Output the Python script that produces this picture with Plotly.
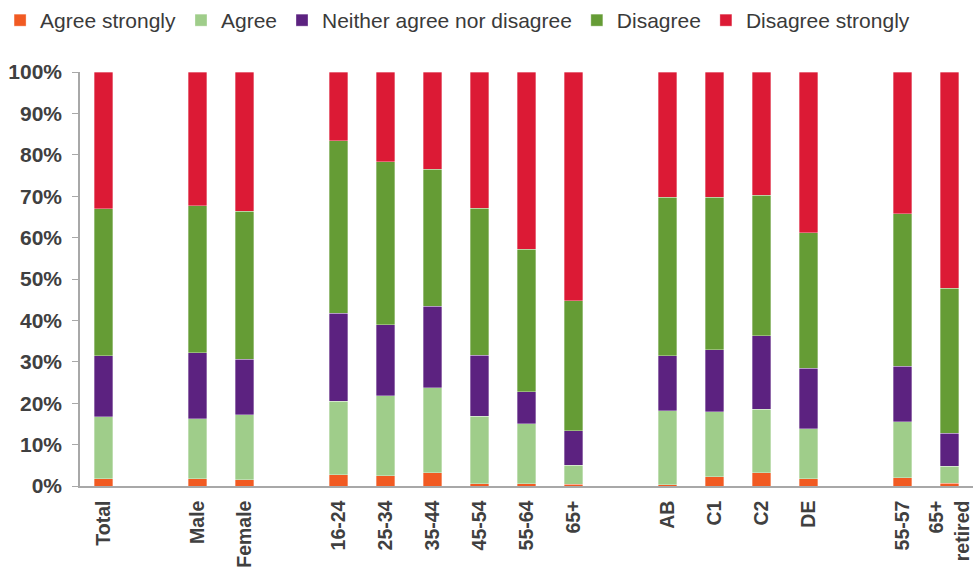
import plotly.graph_objects as go

# Category groups; an empty slot separates consecutive groups on the axis
groups = [
    ["Total"],
    ["Male", "Female"],
    ["16-24", "25-34", "35-44", "45-54", "55-64", "65+"],
    ["AB", "C1", "C2", "DE"],
    ["55-57", "65+<br>retired"],
]

# Share of respondents (%) per response, in category order
agree_strongly = [1.7, 1.8, 1.5, 2.7, 2.5, 3.2, 0.6, 0.6, 0.4, 0.3, 2.2, 3.2, 1.8, 2.0, 0.7]
agree = [15.0, 14.4, 15.7, 17.8, 19.3, 20.5, 16.2, 14.4, 4.6, 17.9, 15.7, 15.4, 12.0, 13.5, 4.1]
neither = [14.8, 16.0, 13.4, 21.2, 17.2, 19.7, 14.8, 7.8, 8.4, 13.3, 15.0, 17.7, 14.6, 13.4, 7.9]
disagree = [35.5, 35.5, 35.8, 41.7, 39.3, 33.1, 35.5, 34.4, 31.3, 38.3, 36.8, 33.9, 32.8, 36.9, 35.1]
disagree_strongly = [33.0, 32.3, 33.6, 16.6, 21.7, 23.5, 32.9, 42.8, 55.3, 30.2, 30.3, 29.8, 38.8, 34.2, 52.2]

series = [
    ("Agree strongly", agree_strongly, "#F15A22"),
    ("Agree", agree, "#9FCD8A"),
    ("Neither agree nor disagree", neither, "#5C2280"),
    ("Disagree", disagree, "#659C35"),
    ("Disagree strongly", disagree_strongly, "#DC1A35"),
]

# Slot positions along the x axis, leaving one blank slot between groups
labels, positions = [], []
slot = 0
for g in groups:
    for name in g:
        labels.append(name)
        positions.append(slot)
        slot += 1
    slot += 1
n_slots = slot - 1

TEXT = "#404040"
AXIS = "#A8A8A8"
FONT = "Liberation Sans, Arial, sans-serif"

fig = go.Figure()
for name, vals, color in series:
    fig.add_trace(go.Bar(
        name=name,
        x=positions,
        y=vals,
        width=0.4,
        marker=dict(color=color, line=dict(color="rgba(255,255,255,0.55)", width=0.6)),
    ))

fig.update_layout(
    width=973,
    height=568,
    barmode="stack",
    plot_bgcolor="white",
    paper_bgcolor="white",
    margin=dict(l=80, r=0, t=72, b=82),
    font=dict(family=FONT, color=TEXT),
    legend=dict(
        orientation="h",
        traceorder="normal",
        x=-0.0895,
        xanchor="left",
        y=1.175,
        yanchor="top",
        font=dict(size=21, color="#3A3A3A", family=FONT),
        itemwidth=30,
        tracegroupgap=0,
    ),
    xaxis=dict(
        range=[-0.5, n_slots - 0.5],
        tickmode="array",
        tickvals=positions,
        ticktext=labels,
        tickangle=-90,
        tickfont=dict(size=19.5, color=TEXT, family=FONT, weight="bold"),
        ticklabeloverflow="allow",
        automargin=False,
        showline=True,
        linecolor=AXIS,
        linewidth=1.5,
        showgrid=False,
        zeroline=False,
        ticks="",
        ticklabelstandoff=5,
    ),
    yaxis=dict(
        range=[0, 100],
        dtick=10,
        ticksuffix="%",
        tickfont=dict(size=21, color=TEXT, family=FONT, weight="bold"),
        automargin=False,
        showline=True,
        linecolor=AXIS,
        linewidth=1.5,
        ticks="outside",
        ticklen=6,
        tickcolor=AXIS,
        tickwidth=1.2,
        showgrid=False,
        zeroline=False,
        ticklabelstandoff=6,
    ),
)

fig.write_html("out.html")
